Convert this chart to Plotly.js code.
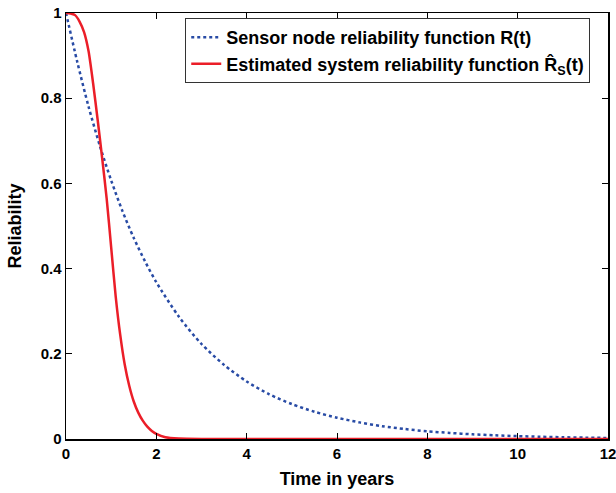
<!DOCTYPE html>
<html><head><meta charset="utf-8">
<script src="https://cdn.plot.ly/plotly-3.0.1.min.js"></script>
<style>body{margin:0;background:#fff}#c{width:616px;height:493px}</style>
</head><body><div id="c"></div>
<script>
const tNode = [0,0.25,0.5,0.75,1,1.25,1.5,1.75,2,2.5,3,3.5,4,4.5,5,5.5,6,6.5,7,7.5,8,8.5,9,9.5,10,10.5,11,11.5,12];
const rNode = [1,0.885,0.78,0.688,0.607,0.535,0.472,0.417,0.368,0.287,0.223,0.174,0.135,0.105,0.082,0.064,0.05,0.039,0.030,0.0235,0.018,0.0143,0.011,0.0087,0.0067,0.0053,0.0041,0.0032,0.0025];
const tSys = [0,0.1,0.2,0.3,0.4,0.5,0.6,0.7,0.8,0.9,1.0,1.1,1.2,1.3,1.4,1.5,1.6,1.7,1.8,1.9,2.0,2.2,2.5,3,4,6,8,10,12];
const rSys = [1,0.999,0.995,0.98,0.955,0.91,0.835,0.75,0.66,0.565,0.45,0.335,0.245,0.175,0.125,0.088,0.062,0.043,0.029,0.019,0.012,0.004,0.001,0,0,0,0,0,0];
const xTicks = [0,2,4,6,8,10,12];
const yTicks = [0,0.2,0.4,0.6,0.8,1];
const nameNode = 'Sensor node reliability function R(t)';
const nameSys = 'Estimated system reliability function R\u0302<sub>S</sub>(t)';

const fam = 'Liberation Sans, Arial, sans-serif';
const data = [
 {x:tNode, y:rNode, name:nameNode, mode:'lines', line:{color:'rgb(40,75,165)', width:2.5, dash:'dot', shape:'spline', smoothing:0.8}},
 {x:tSys, y:rSys, name:nameSys, mode:'lines', line:{color:'rgb(235,30,40)', width:2.5, shape:'spline', smoothing:0.6}}
];
const axis = {showgrid:false, zeroline:false, showline:true, mirror:'ticks', linecolor:'#000', linewidth:1.5,
  ticks:'inside', ticklen:6, tickwidth:1, tickcolor:'#000', ticklabeloverflow:'allow',
  tickfont:{family:fam, size:15, color:'#000', weight:'bold'}};
const layout = {
  width:616, height:493,
  margin:{l:66, r:8, t:13, b:54},
  paper_bgcolor:'#fff', plot_bgcolor:'#fff',
  showlegend:true,
  legend:{x:0.22, y:0.988, xanchor:'left', yanchor:'top', bordercolor:'#333', borderwidth:1, bgcolor:'#fff',
    font:{family:fam, size:18, color:'#000', weight:'bold'}, itemwidth:30, tracegroupgap:0},
  xaxis:Object.assign({}, axis, {range:[0,12], tickvals:xTicks, title:{text:'Time in years', font:{family:fam, size:18, color:'#000', weight:'bold'}, standoff:12}}),
  yaxis:Object.assign({}, axis, {range:[0,1], tickvals:yTicks, title:{text:'Reliability', font:{family:fam, size:18, color:'#000', weight:'bold'}, standoff:14}})
};
Plotly.newPlot('c', data, layout, {displayModeBar:false, staticPlot:true});
</script></body></html>
